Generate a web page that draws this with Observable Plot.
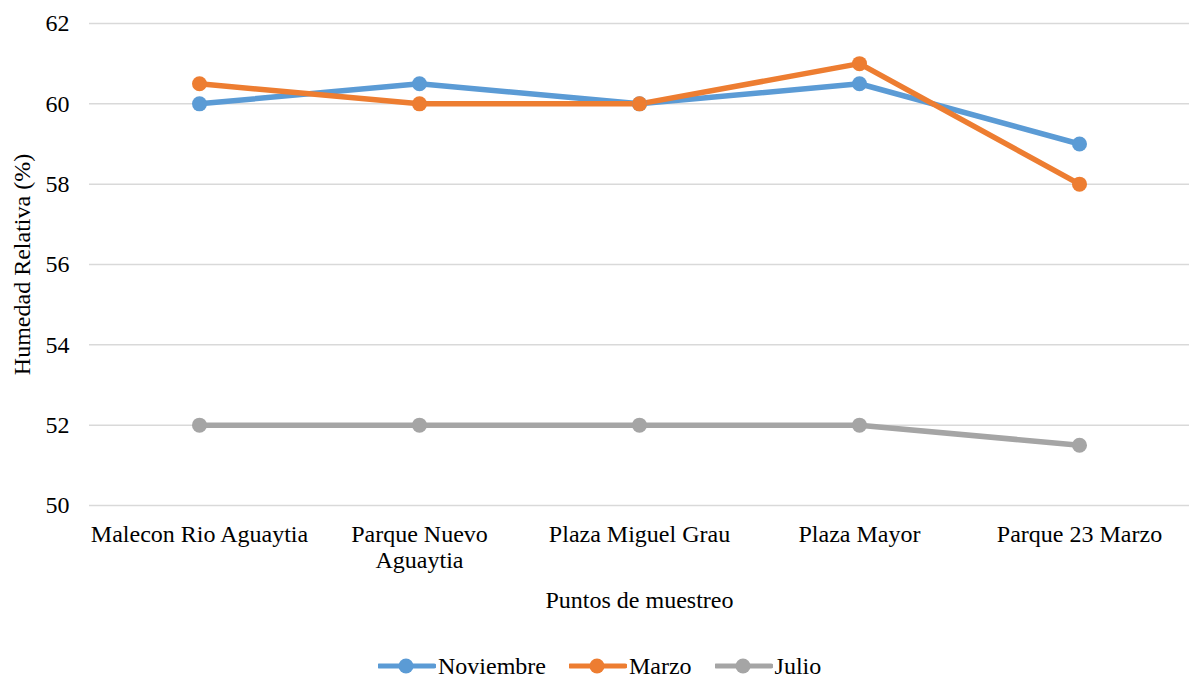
<!DOCTYPE html>
<html>
<head>
<meta charset="utf-8">
<script src="https://cdn.jsdelivr.net/npm/d3@7"></script>
<script src="https://cdn.jsdelivr.net/npm/@observablehq/plot@0.6"></script>
<style>
  html, body { margin: 0; padding: 0; background: #fff; }
</style>
</head>
<body>
<div id="chart"></div>
<div id="legend" style="font-family:'Liberation Serif';font-size:24px;color:#000;display:flex;align-items:center;height:52px;padding-left:378px;"></div>
<script>
const categories = ["Malecon Rio Aguaytia", "Parque Nuevo\nAguaytia", "Plaza Miguel Grau", "Plaza Mayor", "Parque 23 Marzo"];
const seriesNames = ["Noviembre", "Marzo", "Julio"];
const noviembre = [60, 60.5, 60, 60.5, 59];
const marzo = [60.5, 60, 60, 61, 58];
const julio = [52, 52, 52, 52, 51.5];
const yTicks = [50, 52, 54, 56, 58, 60, 62];
const colors = ["#5B9BD5", "#ED7D31", "#A5A5A5"];

const valuesBySeries = [noviembre, marzo, julio];
const data = [];
seriesNames.forEach((s, si) => {
  categories.forEach((c, ci) => data.push({series: s, cat: c, value: valuesBySeries[si][ci]}));
});

const chart = Plot.plot({
  width: 1189,
  height: 640,
  marginTop: 23,
  marginBottom: 135,
  marginLeft: 89,
  marginRight: 0,
  style: {fontFamily: "Liberation Serif", fontSize: "24px", color: "#000", background: "#fff"},
  x: {type: "point", domain: categories, padding: 0.5},
  y: {domain: [50, 62]},
  color: {domain: seriesNames, range: colors},
  marks: [
    Plot.gridY(yTicks, {stroke: "#D9D9D9", strokeOpacity: 1, strokeWidth: 1.5}),
    Plot.axisY(yTicks, {tickSize: 0, tickPadding: 20, label: null, fontSize: 24}),
    Plot.axisX({tickSize: 0, tickPadding: 19, label: null, fontSize: 24, lineHeight: 1.05}),
    Plot.line(data, {x: "cat", y: "value", z: "series", stroke: "series", strokeWidth: 5.5}),
    Plot.dot(data, {x: "cat", y: "value", fill: "series", r: 7.5}),
    Plot.text(["Humedad Relativa (%)"], {frameAnchor: "left", textAnchor: "middle", lineAnchor: "middle", rotate: -90, dx: -67, fontSize: 24, fill: "#000"}),
    Plot.text(["Puntos de muestreo"], {frameAnchor: "bottom", dy: 102, fontSize: 24, fill: "#000"})
  ]
});
document.getElementById("chart").appendChild(chart);

const legend = document.getElementById("legend");
seriesNames.forEach((s, i) => {
  const item = document.createElement("div");
  item.style.display = "flex";
  item.style.alignItems = "center";
  item.style.marginRight = i < seriesNames.length - 1 ? "23px" : "0";
  const sw = d3.create("svg").attr("width", 58).attr("height", 18).style("margin-right", "2px");
  sw.append("line").attr("x1", 1).attr("x2", 56).attr("y1", 9).attr("y2", 9)
    .attr("stroke", colors[i]).attr("stroke-width", 5).attr("stroke-linecap", "round");
  sw.append("circle").attr("cx", 28).attr("cy", 9).attr("r", 7.5).attr("fill", colors[i]);
  item.appendChild(sw.node());
  const t = document.createElement("span");
  t.textContent = s;
  t.style.fontFamily = "'Liberation Serif'";
  item.appendChild(t);
  legend.appendChild(item);
});
</script>
</body>
</html>
